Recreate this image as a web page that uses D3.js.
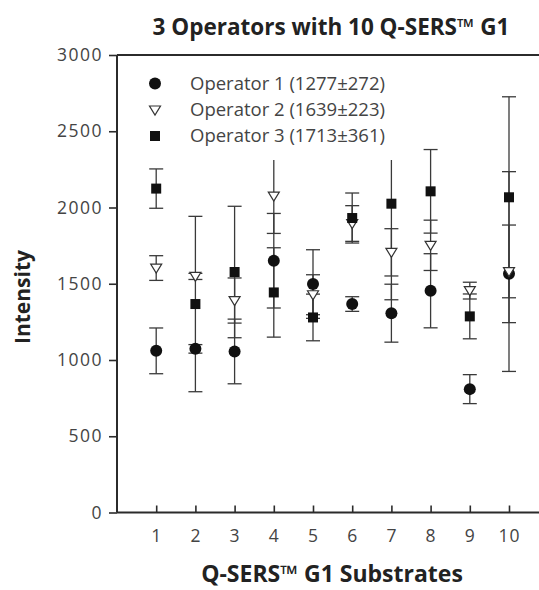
<!DOCTYPE html>
<html lang="en">
<head>
  <meta charset="UTF-8">
  <title>3 Operators with 10 Q-SERS G1</title>
  <script src="https://cdn.jsdelivr.net/npm/d3@7"></script>
  <style>
    html, body { margin: 0; padding: 0; background: #fff; }
    svg { display: block; font-family: "Open Sans", sans-serif; }
  </style>
</head>
<body>
  <svg id="chart" width="539" height="590"></svg>
<script>
  // substrate numbers on the x axis
  var substrates = [1, 2, 3, 4, 5, 6, 7, 8, 9, 10];
  var yTicks = [0, 500, 1000, 1500, 2000, 2500, 3000];

  // mean intensity and error (+/-) per operator
  var op1 = [1060, 1073, 1056, 1651, 1498, 1367, 1307, 1454, 809, 1565];
  var op1Err = [150, 28, 212, 310, 225, 48, 190, 243, 95, 320];
  var op2 = [1603, 1548, 1390, 2075, 1428, 1895, 1706, 1752, 1455, 1580];
  var op2Err = [81, 20, 148, 245, 131, 117, 155, 165, 55, 655];
  var op3 = [2124, 1367, 1577, 1443, 1279, 1931, 2025, 2106, 1286, 2067];
  var op3Err = [129, 575, 431, 293, 153, 164, 630, 274, 147, 659];

  var seriesNames = ["Operator 1 (1277\u00b1272)", "Operator 2 (1639\u00b1223)", "Operator 3 (1713\u00b1361)"];
  var seriesShapes = ["circle", "triangle", "square"];

  var series = [
    { name: seriesNames[0], shape: seriesShapes[0], values: op1, errs: op1Err },
    { name: seriesNames[1], shape: seriesShapes[1], values: op2, errs: op2Err },
    { name: seriesNames[2], shape: seriesShapes[2], values: op3, errs: op3Err }
  ];

  var svg = d3.select("#chart");
  var margin = { top: 55, left: 117 };
  var plotH = 457.5;

  var x = d3.scaleLinear().domain([0, 10.8]).range([margin.left, margin.left + 10.8 * 39.2]);
  var y = d3.scaleLinear().domain([0, 3000]).range([margin.top + plotH, margin.top]);

  var ink = "#2b2b2b";

  // error bars
  var errG = svg.append("g");
  series.forEach(function(s) {
    substrates.forEach(function(sub, i) {
      var cx = x(sub);
      var hi = y(s.values[i] + s.errs[i]);
      var lo = y(s.values[i] - s.errs[i]);
      errG.append("line").attr("x1", cx).attr("x2", cx).attr("y1", hi).attr("y2", lo)
        .attr("stroke", "#3a3a3a").attr("stroke-width", 1.3);
      [hi, lo].forEach(function(cy) {
        errG.append("line").attr("x1", cx - 7).attr("x2", cx + 7).attr("y1", cy).attr("y2", cy)
          .attr("stroke", "#3a3a3a").attr("stroke-width", 1.3);
      });
    });
  });

  function drawMarker(g, shape, cx, cy) {
    if (shape === "circle") {
      g.append("circle").attr("cx", cx).attr("cy", cy).attr("r", 6).attr("fill", "#111");
    } else if (shape === "square") {
      g.append("rect").attr("x", cx - 5).attr("y", cy - 5).attr("width", 10).attr("height", 10).attr("fill", "#111");
    } else {
      g.append("path")
        .attr("d", "M" + (cx - 5.5) + "," + (cy - 4) + "L" + (cx + 5.5) + "," + (cy - 4) + "L" + cx + "," + (cy + 5) + "Z")
        .attr("fill", "#fff").attr("stroke", "#333").attr("stroke-width", 1.2);
    }
  }

  // markers: circles, then triangles, then squares on top
  var markG = svg.append("g");
  series.forEach(function(s) {
    substrates.forEach(function(sub, i) {
      drawMarker(markG, s.shape, x(sub), y(s.values[i]));
    });
  });

  // legend on a white box (it hides the tops of a few bars)
  var legend = svg.append("g");
  legend.append("rect").attr("x", 124).attr("y", 62).attr("width", 276).attr("height", 98).attr("fill", "#fff");
  var legendY = [83.5, 110, 136];
  series.forEach(function(s, i) {
    drawMarker(legend, s.shape, 155, legendY[i]);
    legend.append("text").attr("x", 190).attr("y", legendY[i]).attr("dy", "0.35em")
      .attr("font-size", 18.5).attr("fill", "#444").text(s.name);
  });

  // axes
  var yAxis = d3.axisLeft(y).tickValues(yTicks).tickFormat(d3.format("d")).tickSize(8).tickPadding(6);
  var yg = svg.append("g").attr("transform", "translate(" + margin.left + ",0)").call(yAxis);
  yg.select(".domain").remove();
  yg.selectAll(".tick line").attr("stroke", ink).attr("stroke-width", 1.6);
  yg.selectAll(".tick text").attr("font-size", 17.5).attr("letter-spacing", "1.5px").attr("fill", "#444")
    .attr("font-family", "Open Sans");

  var xAxis = d3.axisBottom(x).tickValues(substrates).tickFormat(d3.format("d")).tickSize(-7).tickPadding(17);
  var xg = svg.append("g").attr("transform", "translate(0," + y(0) + ")").call(xAxis);
  xg.select(".domain").remove();
  xg.selectAll(".tick line").attr("stroke", ink).attr("stroke-width", 1.6);
  xg.selectAll(".tick text").attr("font-size", 17.5).attr("letter-spacing", "1px").attr("fill", "#444")
    .attr("font-family", "Open Sans");

  // frame lines: left, bottom, top
  svg.append("line").attr("x1", x(0)).attr("x2", x(0)).attr("y1", y(3000)).attr("y2", y(0))
    .attr("stroke", ink).attr("stroke-width", 2);
  svg.append("line").attr("x1", x(0)).attr("x2", x(10.8)).attr("y1", y(0)).attr("y2", y(0))
    .attr("stroke", ink).attr("stroke-width", 2);
  svg.append("line").attr("x1", x(0)).attr("x2", x(10.8)).attr("y1", y(3000)).attr("y2", y(3000))
    .attr("stroke", ink).attr("stroke-width", 2);

  // titles
  svg.append("text").attr("x", 331).attr("y", 35).attr("text-anchor", "middle")
    .attr("font-size", 22.5).attr("font-weight", "bold").attr("fill", "#222")
    .text("3 Operators with 10 Q-SERS\u2122 G1");

  svg.append("text").attr("x", 332).attr("y", 582).attr("text-anchor", "middle")
    .attr("font-size", 23).attr("font-weight", "bold").attr("fill", "#222")
    .text("Q-SERS\u2122 G1 Substrates");

  svg.append("text").attr("transform", "translate(30,297) rotate(-90)").attr("text-anchor", "middle")
    .attr("font-size", 21).attr("font-weight", "bold").attr("fill", "#222")
    .text("Intensity");
</script>
</body>
</html>
